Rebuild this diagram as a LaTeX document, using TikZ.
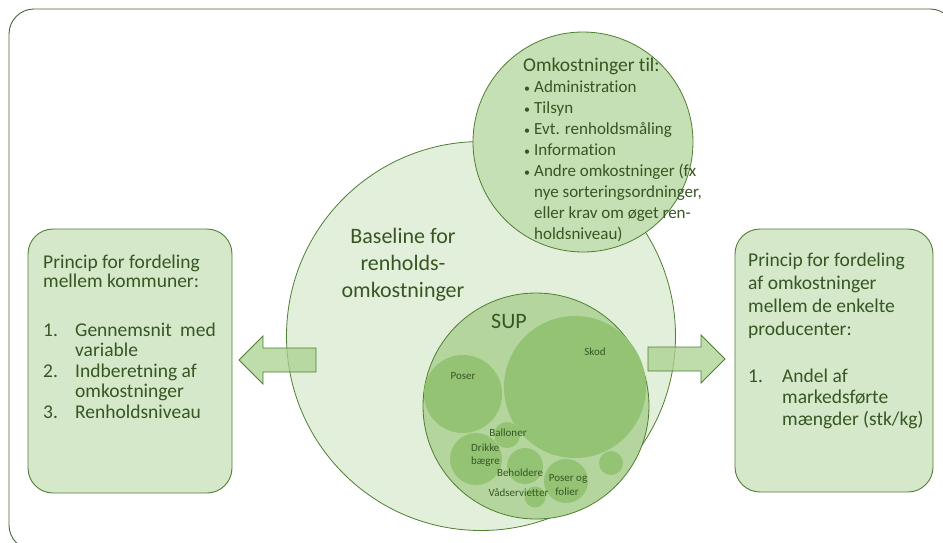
\documentclass[tikz,border=0pt]{standalone}
\usepackage{fontspec}
\setmainfont{Carlito}[Ligatures={NoCommon}]
\definecolor{framecol}{HTML}{4B6536}
\definecolor{edgecol}{HTML}{507E32}
\definecolor{bigfill}{HTML}{E2EFDA}
\definecolor{topfill}{HTML}{C5E0B4}
\definecolor{boxfill}{HTML}{D5E8CA}
\definecolor{supfill}{HTML}{B4D69E}
\definecolor{bubfill}{HTML}{94C374}
\definecolor{arrfill}{HTML}{A9D18E}
\definecolor{textg}{HTML}{375623}
\begin{document}
\begin{tikzpicture}[x=1pt,y=-1pt,
  frame/.style={draw=framecol, line width=0.9pt, rounded corners=25pt},
  infobox/.style={draw=edgecol, line width=0.9pt, fill=boxfill, rounded corners=25pt, inner sep=0pt},
  disc/.style={circle, draw=edgecol, line width=0.8pt, inner sep=0pt},
  bubble/.style={circle, fill=bubfill, inner sep=0pt},
  blockarrow/.style={draw=edgecol, line width=0.8pt, fill=arrfill, fill opacity=0.75, line join=miter},
  lt/.style={anchor=base west, inner sep=0pt, text=textg, font=\fontsize{19.5}{20}\selectfont},
  bt/.style={anchor=base west, inner sep=0pt, text=textg, font=\fontsize{17}{18}\selectfont},
  st/.style={anchor=center, inner sep=0pt, text=textg, font=\fontsize{11}{12}\selectfont},
  ct/.style={anchor=base, inner sep=0pt, text=textg, font=\fontsize{22}{24}\selectfont}]
\useasboundingbox (0,0) rectangle (943,542);
\clip (0,0) rectangle (943,542);
\draw[frame] (9,9) rectangle (955,550);
% side boxes
\node[infobox, minimum width=204pt, minimum height=264pt] (lbox) at (130,361) {};
\node[infobox, minimum width=198pt, minimum height=263pt] (rbox) at (834,360.5) {};
% circles
\node[disc, fill=bigfill, minimum size=389pt] (base) at (481,336) {};
\node[disc, fill=topfill, minimum size=220pt] (top) at (583,142) {};
\node[disc, fill=supfill, minimum size=226pt] (sup) at (536,406) {};
\node[bubble, minimum size=142pt] (skod) at (575,387) {};
\node[bubble, minimum size=78pt] (poser) at (463,394) {};
\node[bubble, minimum size=26pt] (ball) at (507,435) {};
\node[bubble, minimum size=52pt] (drik) at (476,459) {};
\node[bubble, minimum size=36pt] (behol) at (525,466) {};
\node[bubble, minimum size=44pt] (folie) at (566,481) {};
\node[bubble, minimum size=24pt] (small) at (611,463) {};
\node[bubble, minimum size=21pt] (vaad) at (535,497) {};
% block arrows
\draw[blockarrow] (239,360) -- (263,336) -- (263,348) -- (316,348) -- (316,372) -- (263,372) -- (263,384) -- cycle;
\draw[blockarrow] (725,359) -- (701,335) -- (701,347) -- (648,347) -- (648,371) -- (701,371) -- (701,383) -- cycle;
% texts
\node[ct] (t1) at (403,243) {Baseline for};
\node[ct] (t2) at (403,270) {renholds-};
\node[ct] (t3) at (403,297) {omkostninger};
\node[ct] (tsup) at (509,328) {SUP};
\node[st] (lskod) at (595,352) {Skod};
\node[st] (lposer) at (463,376) {Poser};
\node[st] (lball) at (508,433) {Balloner};
\node[st, anchor=west] (ldrik) at (471,448) {Drikke};
\node[st, anchor=west] (lbaeg) at (471,462) {bægre};
\node[st] (lbeh) at (520,473) {Beholdere};
\node[st] (lpos2) at (568,479) {Poser og};
\node[st] (lfol) at (567,492) {folier};
\node[st] (lvaad) at (518.5,493) {Vådservietter};
% top circle text
\node[lt] (h1) at (523,71) {Omkostninger til:};
\foreach \y/\txt [count=\i] in {92/Administration,113/Tilsyn,134/Evt. renholdsmåling,155/Information,176/Andre omkostninger (fx}{
  \node[bt] (b\i) at (524,\y) {\fontsize{12}{12}\selectfont\textbullet};
  \node[bt] (bb\i) at (534,\y) {\txt};
}
\node[bt] (c1) at (534,197) {nye sorteringsordninger,};
\node[bt] (c2) at (534,218) {eller krav om øget ren-};
\node[bt] (c3) at (534,239) {holdsniveau)};
% left box text
\node[lt] (l1) at (43,268) {Princip for fordeling};
\node[lt] (l2) at (43,287) {mellem kommuner:};
\node[lt] (n1) at (43,336) {1.};
\node[lt] (i1) at (75,336) {Gennemsnit\hspace{4pt} med};
\node[lt] (i1b) at (75,356.5) {variable};
\node[lt] (n2) at (43,377) {2.};
\node[lt] (i2) at (75,377) {Indberetning af};
\node[lt] (i2b) at (75,397.5) {omkostninger};
\node[lt] (n3) at (43,418) {3.};
\node[lt] (i3) at (75,418) {Renholdsniveau};
% right box text
\node[lt] (r1) at (748,266) {Princip for fordeling};
\node[lt] (r2) at (748,289) {af omkostninger};
\node[lt] (r3) at (748,312) {mellem de enkelte};
\node[lt] (r4) at (748,335) {producenter:};
\node[lt] (rn1) at (748,382) {1.};
\node[lt] (ri1) at (782,382) {Andel af};
\node[lt] (ri2) at (782,403) {markedsførte};
\node[lt] (ri3) at (782,425) {mængder (stk/kg)};
\end{tikzpicture}
\end{document}
